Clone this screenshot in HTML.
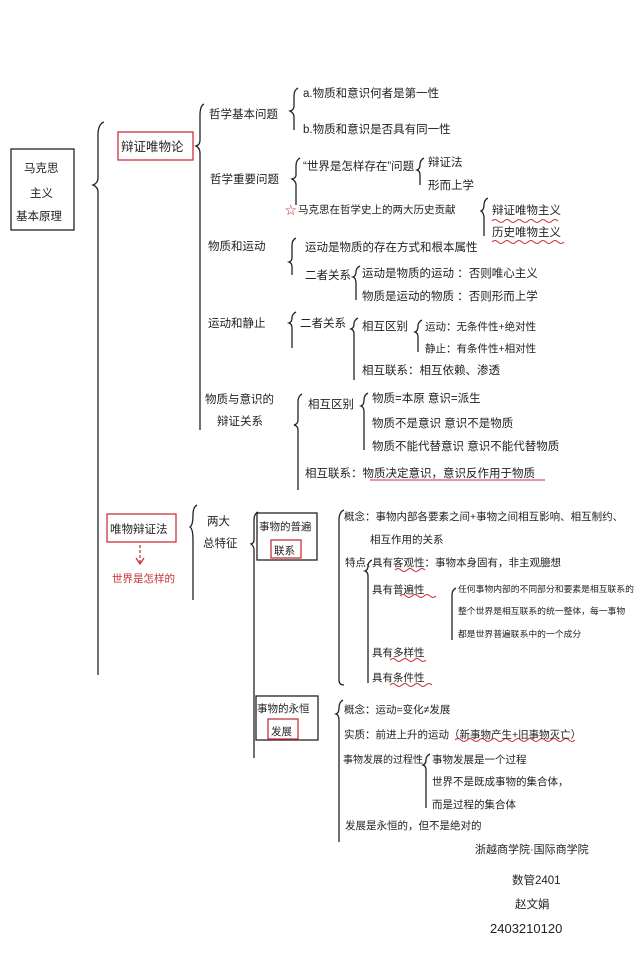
<!DOCTYPE html>
<html><head><meta charset="utf-8"><style>
html,body{margin:0;padding:0;background:#fff;}
svg{display:block;}
text{font-family:"Liberation Sans","Noto Sans CJK SC",sans-serif;font-size:11.5px;fill:#222;}
.r{fill:#c8323c;}
</style></head><body>
<svg width="640" height="960" viewBox="0 0 640 960" xmlns="http://www.w3.org/2000/svg">
<g fill="none" stroke="#222" stroke-width="1.3">
<rect x="11" y="149" width="63" height="81"/>
<path d="M104 122 Q98 124 98 135 L98 178 Q98 183 93 185 Q98 187 98 192 L98 675"/>
<path d="M204 104 Q200 106 200 115 L200 140 Q200 145 196 146 Q200 148 200 153 L200 430"/>
<path d="M298 88 Q294 90 294 96 L294 106 Q294 110 290 111 Q294 113 294 117 L294 130"/>
<path d="M300 158 Q296 160 296 166 L296 175 Q296 178 292 179 Q296 181 296 185 L296 205"/>
<path d="M424 158 Q420 160 420 165 Q420 169 417 170 Q420 171 420 175 L420 185"/>
<path d="M488 198 Q484 200 484 205 Q484 210 481 211 Q484 213 484 218 L484 236"/>
<path d="M296 238 Q292 240 292 245 L292 258 Q292 261 289 262 Q292 263 292 267 L292 275"/>
<path d="M360 266 Q356 268 356 272 Q356 276 353 277 Q356 278 356 283 L356 300"/>
<path d="M296 312 Q292 314 292 318 Q292 322 289 323 Q292 324 292 328 L292 348"/>
<path d="M358 318 Q354 320 354 324 Q354 328 351 329 Q354 330 354 334 L354 380"/>
<path d="M422 320 Q418 322 418 326 Q418 331 415 332 Q418 333 418 337 L418 352"/>
<path d="M302 394 Q298 396 298 402 L298 420 Q298 424 294 425 Q298 426 298 430 L298 490"/>
<path d="M368 393 Q364 395 364 400 Q364 405 361 406 Q364 407 364 412 L364 450"/>
<rect x="107" y="514" width="69" height="28" stroke="#c8323c"/>
<path d="M140 545 L140 563" stroke="#c8323c" stroke-dasharray="3,2"/>
<path d="M136 558 L140 564 L144 558" stroke="#c8323c"/>
<path d="M197 505 Q193 507 193 515 Q193 525 190 527 Q193 529 193 540 L193 600"/>
<path d="M258 512 Q254 514 254 520 L254 540 Q254 543 251 544 Q254 546 254 550 L254 758"/>
<rect x="257" y="513" width="60" height="47"/>
<rect x="271" y="540" width="30" height="18" stroke="#c8323c"/>
<rect x="256" y="696" width="62" height="44"/>
<rect x="268" y="719" width="30" height="20" stroke="#c8323c"/>
<path d="M344 510 Q339 512 339 520 L339 680 Q339 685 344 685"/>
<path d="M372 560 Q368 562 368 566 Q368 570 365 571 Q368 572 368 576 L368 683"/>
<path d="M456 588 Q452 590 452 595 L452 640"/>
<path d="M343 700 Q339 702 339 708 Q339 713 336 714 Q339 715 339 720 L339 842"/>
<path d="M430 754 Q426 756 426 760 Q426 764 423 765 Q426 766 426 770 L426 808"/>
<path d="M370 480 L545 480" stroke="#c8323c" stroke-width="1"/>
<path d="M492 221 q3 -3 6 0 t6 0 t6 0 t6 0 t6 0 t6 0 t6 0 t6 0 t6 0 t6 0 t6 0" stroke="#c8323c" stroke-width="1"/>
<path d="M492 242 q3 -3 6 0 t6 0 t6 0 t6 0 t6 0 t6 0 t6 0 t6 0 t6 0 t6 0 t6 0 t6 0" stroke="#c8323c" stroke-width="1"/>
<path d="M395 570 q3 -3 6 0 t6 0 t6 0 t6 0 t6 0" stroke="#c8323c" stroke-width="1"/>
<path d="M400 596 q3 -3 6 0 t6 0 t6 0 t6 0 t6 0 t6 0" stroke="#c8323c" stroke-width="1"/>
<path d="M390 660 q3 -3 6 0 t6 0 t6 0 t6 0 t6 0 t6 0" stroke="#c8323c" stroke-width="1"/>
<path d="M390 685 q3 -3 6 0 t6 0 t6 0 t6 0 t6 0 t6 0 t6 0" stroke="#c8323c" stroke-width="1"/>
<path d="M455 740 q3 -3 6 0 t6 0 t6 0 t6 0 t6 0 t6 0 t6 0 t6 0 t6 0 t6 0 t6 0 t6 0 t6 0 t6 0 t6 0 t6 0 t6 0 t6 0 t6 0 t6 0" stroke="#c8323c" stroke-width="1"/>
<rect x="118" y="132" width="75" height="28" stroke="#c8323c"/>
</g>
<text x="24" y="172">马克思</text>
<text x="30" y="197">主义</text>
<text x="16" y="220">基本原理</text>
<text x="121" y="151" style="font-size:12.5px">辩证唯物论</text>
<text x="209" y="118">哲学基本问题</text>
<text x="303" y="97">a.物质和意识何者是第一性</text>
<text x="303" y="133">b.物质和意识是否具有同一性</text>
<text x="210" y="183">哲学重要问题</text>
<text x="303" y="170">“世界是怎样存在”问题</text>
<text x="428" y="166">辩证法</text>
<text x="428" y="189">形而上学</text>
<text class="r" x="285" y="214">☆</text>
<text x="298" y="213" style="font-size:10.5px">马克思在哲学史上的两大历史贡献</text>
<text x="492" y="214">辩证唯物主义</text>
<text x="492" y="236">历史唯物主义</text>
<text x="208" y="250">物质和运动</text>
<text x="305" y="251">运动是物质的存在方式和根本属性</text>
<text x="305" y="279">二者关系</text>
<text x="362" y="277">运动是物质的运动 ：否则唯心主义</text>
<text x="362" y="300">物质是运动的物质 ：否则形而上学</text>
<text x="208" y="327">运动和静止</text>
<text x="300" y="327">二者关系</text>
<text x="362" y="330">相互区别</text>
<text x="425" y="330" style="font-size:10.5px">运动：无条件性+绝对性</text>
<text x="425" y="352" style="font-size:10.5px">静止：有条件性+相对性</text>
<text x="362" y="374">相互联系：相互依赖、渗透</text>
<text x="205" y="403">物质与意识的</text>
<text x="217" y="425">辩证关系</text>
<text x="308" y="408">相互区别</text>
<text x="372" y="402">物质=本原 意识=派生</text>
<text x="372" y="427">物质不是意识 意识不是物质</text>
<text x="372" y="450">物质不能代替意识 意识不能代替物质</text>
<text x="305" y="477">相互联系：物质决定意识，意识反作用于物质</text>
<text x="110" y="533">唯物辩证法</text>
<text class="r" x="112" y="582" style="font-size:10.5px">世界是怎样的</text>
<text x="207" y="525">两大</text>
<text x="203" y="547">总特征</text>
<text x="259" y="530" style="font-size:10.5px">事物的普遍</text>
<text x="274" y="554" style="font-size:10.5px">联系</text>
<text x="344" y="520" style="font-size:10.5px">概念：事物内部各要素之间+事物之间相互影响、相互制约、</text>
<text x="370" y="543" style="font-size:10.5px">相互作用的关系</text>
<text x="345" y="566" style="font-size:10.5px">特点、</text>
<text x="372" y="566" style="font-size:10.5px">具有客观性：事物本身固有，非主观臆想</text>
<text x="372" y="593" style="font-size:10.5px">具有普遍性</text>
<text x="458" y="592" style="font-size:8.8px">任何事物内部的不同部分和要素是相互联系的</text>
<text x="458" y="614" style="font-size:8.8px">整个世界是相互联系的统一整体，每一事物</text>
<text x="458" y="637" style="font-size:8.8px">都是世界普遍联系中的一个成分</text>
<text x="372" y="656" style="font-size:10.5px">具有多样性</text>
<text x="372" y="681" style="font-size:10.5px">具有条件性</text>
<text x="257" y="712" style="font-size:10.5px">事物的永恒</text>
<text x="271" y="735" style="font-size:10.5px">发展</text>
<text x="344" y="713" style="font-size:10.5px">概念：运动=变化≠发展</text>
<text x="344" y="738" style="font-size:10.5px">实质：前进上升的运动（新事物产生+旧事物灭亡）</text>
<text x="343" y="763" style="font-size:10px">事物发展的过程性</text>
<text x="432" y="763" style="font-size:10.5px">事物发展是一个过程</text>
<text x="432" y="785" style="font-size:10.5px">世界不是既成事物的集合体，</text>
<text x="432" y="808" style="font-size:10.5px">而是过程的集合体</text>
<text x="345" y="829" style="font-size:10.5px">发展是永恒的，但不是绝对的</text>
<text x="475" y="853" style="font-size:11px">浙越商学院·国际商学院</text>
<text x="512" y="884">数管2401</text>
<text x="515" y="908">赵文娟</text>
<text x="490" y="933" style="font-size:13px">2403210120</text>
</svg>
</body></html>
